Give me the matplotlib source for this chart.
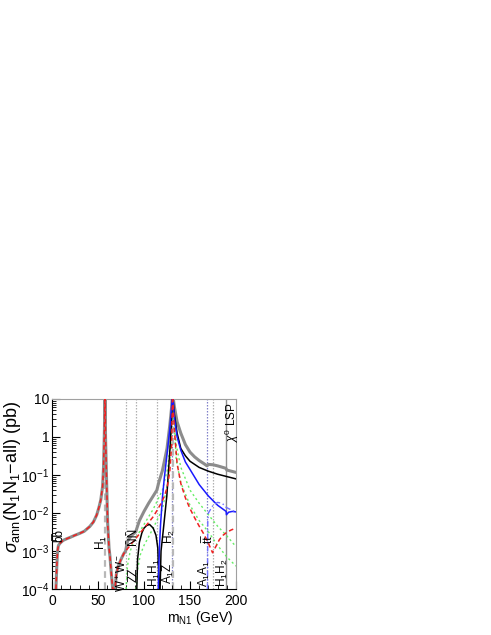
import numpy as np
import matplotlib
matplotlib.use("Agg")
import matplotlib.pyplot as plt
from matplotlib.ticker import FixedLocator, NullFormatter, MultipleLocator

plt.rcParams['font.family'] = ['Liberation Sans', 'DejaVu Sans']
plt.rcParams['mathtext.fontset'] = 'custom'
plt.rcParams['mathtext.rm'] = 'Liberation Sans'
plt.rcParams['mathtext.it'] = 'Liberation Sans:italic'

# ---- data (m_N1 in GeV, sigma in pb) ----
total_m = [4.3, 5, 6, 7, 8.7, 12, 16, 20, 25, 30, 35, 41, 45, 48.6, 51, 53, 55, 56, 57, 57.6,
           58.2, 59, 60.5, 62, 63, 64.5, 66,
           68.5, 70, 72, 75, 78, 80, 82, 86, 91, 95, 100, 105, 110, 114,
           116, 120, 125, 128, 130, 131,
           133, 136, 140, 145, 150, 155, 160, 165, 168.5, 170, 175, 180, 189, 190, 200]
total_s = [1e-4, 3e-4, 1e-3, 1.4e-3, 1.6e-3, 1.9e-3, 2.1e-3, 2.3e-3, 2.6e-3, 2.9e-3, 3.3e-3, 4.4e-3, 5.8e-3, 8.9e-3, 1.4e-2, 2.2e-2, 5e-2, 0.16, 1.6, 15,
           1.0, 0.15, 5.4e-3, 1.2e-3, 7.2e-4, 2.5e-4, 1e-4,
           1e-4, 2.5e-4, 4e-4, 6e-4, 8.5e-4, 1.0e-3, 1.8e-3, 2.5e-3, 3.2e-3, 6.3e-3, 1.1e-2, 1.8e-2, 2.8e-2, 4e-2,
           6.3e-2, 0.13, 0.5, 2.0, 6.0, 15,
           6.3, 2.5, 1.26, 0.63, 0.4, 0.3, 0.24, 0.2, 0.174, 0.19, 0.186, 0.174, 0.15, 0.135, 0.117]

red_m = [4.3, 5, 6, 7, 8.7, 12, 16, 20, 25, 30, 35, 41, 45, 48.6, 51, 53, 55, 56, 57, 57.6,
         58.2, 59, 60.5, 62, 63, 64.5, 66,
         68.5, 70, 72, 75, 78, 80, 85, 90, 95, 100, 105, 110, 114, 118, 122, 125, 128, 130, 131,
         133, 136, 140, 145, 150, 155, 160, 165, 170, 174.5, 178, 182, 186, 190, 195, 200]
red_s = [1e-4, 3e-4, 1e-3, 1.4e-3, 1.6e-3, 1.9e-3, 2.1e-3, 2.3e-3, 2.6e-3, 2.9e-3, 3.3e-3, 4.4e-3, 5.8e-3, 8.9e-3, 1.4e-2, 2.2e-2, 5e-2, 0.16, 1.6, 15,
         1.0, 0.15, 5.4e-3, 1.2e-3, 7.2e-4, 2.5e-4, 1e-4,
         1e-4, 2.5e-4, 4e-4, 6e-4, 8.5e-4, 1.0e-3, 1.4e-3, 2.0e-3, 2.8e-3, 4.0e-3, 5.6e-3, 8e-3, 1.15e-2, 1.7e-2, 2.7e-2, 4.5e-2, 0.12, 0.6, 15,
         1.5, 0.2, 6e-2, 2.5e-2, 1.3e-2, 7.5e-3, 4.5e-3, 2.8e-3, 1.6e-3, 9e-4, 1.3e-3, 2e-3, 2.6e-3, 3.1e-3, 3.6e-3, 4e-3]

black_m = [92.2, 93, 95, 97.7, 100, 103, 106, 110, 113, 115, 116.5,
           117.5, 118.5, 121, 124.8, 128.4, 130, 131,
           133, 136, 140, 145, 150, 160, 170, 180, 190, 200]
black_s = [1e-4, 6e-4, 1.7e-3, 3e-3, 4e-3, 4.7e-3, 5e-3, 4e-3, 2.6e-3, 1.2e-3, 1e-4,
           1e-4, 1e-3, 3.6e-3, 2.8e-2, 0.56, 3.0, 15,
           4.0, 1.26, 0.5, 0.32, 0.23, 0.158, 0.126, 0.105, 0.091, 0.079]

blue_m = [115.5, 116, 117, 118, 120, 122, 125, 128, 130, 131,
          133, 136, 140, 145, 150, 160, 170, 180, 189.3, 189.6, 192, 196, 200]
blue_s = [1e-4, 3e-4, 1.6e-3, 5e-3, 2.5e-2, 8e-2, 0.35, 1.6, 6.3, 15,
          3.2, 1.0, 0.45, 0.22, 0.14, 5.6e-2, 2.8e-2, 1.6e-2, 1.1e-2, 9e-3, 1.05e-2, 1.1e-2, 1.07e-2]

bluedd_m = [169, 169.3, 170, 175, 180, 185, 189.5, 195, 200]
bluedd_s = [1e-4, 6e-3, 1e-2, 1.6e-2, 1.9e-2, 1.8e-2, 1.4e-2, 1.2e-2, 1.07e-2]

green1_m = [80.5, 82, 85, 90, 100, 110, 120, 126, 129, 131,
            135, 140, 150, 160, 170, 180, 190, 200]
green1_s = [1e-4, 4e-4, 1e-3, 2e-3, 5e-3, 1.26e-2, 4e-2, 0.16, 1.0, 15,
            0.63, 0.16, 4e-2, 1.8e-2, 9e-3, 4.5e-3, 2.5e-3, 1.3e-3]
green2_m = [91.5, 93, 96, 100, 110, 120, 126, 129, 131,
            135, 140, 150, 160, 170, 180, 190, 200]
green2_s = [1e-4, 3.2e-4, 8e-4, 1.4e-3, 4e-3, 1.26e-2, 6.3e-2, 0.5, 15,
            0.25, 6.3e-2, 1.6e-2, 6.3e-3, 3.2e-3, 1.4e-3, 7e-4, 4e-4]

vlines_light = [80.3, 91.2, 114.6, 174.5]
vline_blue = [169.0, 130.8]
vline_dark = [189.5]
vlines_res = [57.6, 131.0]

labels = ["b\u0305b", "H$_1$", "W$^+$W$^-$", "ZZ", "\u00d1\u00d1", "H$_1$H$_1$", "A$_1$Z",
          "H$_2$", "A$_1$A$_1$", "t\u0305t", "H$_1$H$_2$", "$\\chi^0$ LSP"]
label_m = [8.0, 53.5, 75.7, 88.8, 88.0, 111.0, 127.0, 127.5, 165.5, 171.0, 185.5, 196.0]
label_y = [2.5e-3, 1.7e-3, 2.6e-4, 2.4e-4, 2.4e-3, 2.6e-4, 2.6e-4, 2.4e-3, 2.6e-4, 2.0e-3, 2.6e-4, 2.5]

fig = plt.figure(figsize=(4.91, 6.35), dpi=100)
ax = fig.add_axes([52/491, 46/635, 184/491, 190/635])

for v in vlines_light:
    ax.axvline(v, color='#b0b0b0', lw=0.9, ls=(0, (1.2, 1.2)), zorder=1)
for v in vline_blue:
    ax.axvline(v, color='#8080c8', lw=0.9, ls=(0, (1.2, 1.2)), zorder=1)
for v in vline_dark:
    ax.axvline(v, color='#909090', lw=1.0, zorder=1)
for v in vlines_res:
    ax.axvline(v, color='#b8b8b8', lw=1.6, ls=(0, (3, 2)), zorder=1)

ax.plot(total_m, total_s, color='#8c8c8c', lw=2.2, zorder=2, solid_joinstyle='round')
ax.plot(green1_m, green1_s, color='#66ee66', lw=1.0, ls=(0, (1.5, 2)), zorder=3)
ax.plot(green2_m, green2_s, color='#66ee66', lw=1.0, ls=(0, (1.5, 2)), zorder=3)
ax.plot(black_m, black_s, color='black', lw=1.1, zorder=4)
ax.plot(blue_m, blue_s, color='#1a1aff', lw=1.1, zorder=4)
ax.plot(bluedd_m, bluedd_s, color='#7070ff', lw=1.0, ls=(0, (4, 2, 1, 2)), zorder=4)
ax.plot(red_m, red_s, color='#ee2222', lw=1.1, ls=(0, (3, 2)), zorder=5)

for t, xm, ym in zip(labels, label_m, label_y):
    ax.text(xm, ym, t, rotation=90, ha='center', va='center', fontsize=8.5, zorder=6)

ax.set_yscale('log')
ax.set_xlim(0, 200)
ax.set_ylim(1e-4, 10)
ax.xaxis.set_major_locator(MultipleLocator(50))
ax.xaxis.set_minor_locator(MultipleLocator(10))
ax.yaxis.set_major_locator(FixedLocator([1e-4, 1e-3, 1e-2, 1e-1, 1, 10]))
ax.set_yticklabels(["$10^{-4}$", "$10^{-3}$", "$10^{-2}$", "$10^{-1}$", "1", "10"])
ax.tick_params(which='both', direction='in', top=False, right=False, labelsize=10)
ax.tick_params(axis='y', which='major', pad=2)
ax.tick_params(which='major', length=6)
ax.tick_params(which='minor', length=3)
for s in ['top', 'right']:
    ax.spines[s].set_color('#a0a0a0')
ax.set_xlabel("m$_{\\rm N1}$ (GeV)", fontsize=10, loc='right')
ax.xaxis.set_label_coords(0.985, -0.105)
ax.set_ylabel("$\\sigma_{\\rm ann}$(N$_1$N$_1$$-$all) (pb)", fontsize=13, loc='top')
ax.yaxis.set_label_coords(-0.155, 0.99)

fig.savefig("out.png", dpi=100)
